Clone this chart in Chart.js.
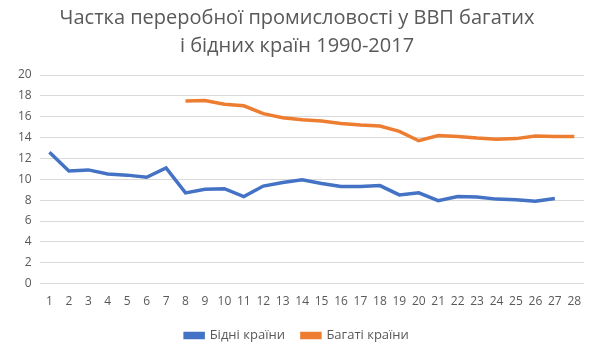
<!DOCTYPE html>
<html>
<head>
<meta charset="utf-8">
<script src="https://cdn.jsdelivr.net/npm/chart.js@4"></script>
<style>
  html, body { margin: 0; padding: 0; background: #fff; }
  #wrap { width: 600px; height: 360px; }
</style>
</head>
<body>
<div id="wrap"><canvas id="chart"></canvas></div>
<script>
const labels = ['1','2','3','4','5','6','7','8','9','10','11','12','13','14','15','16','17','18','19','20','21','22','23','24','25','26','27','28'];
const poor = [12.6, 10.8, 10.9, 10.5, 10.4, 10.2, 11.1, 8.7, 9.05, 9.1, 8.35, 9.35, 9.7, 9.95, 9.6, 9.3, 9.3, 9.4, 8.5, 8.7, 7.95, 8.35, 8.3, 8.1, 8.05, 7.9, 8.15, null];
const rich = [null, null, null, null, null, null, null, 17.5, 17.55, 17.2, 17.05, 16.3, 15.9, 15.7, 15.6, 15.35, 15.2, 15.1, 14.6, 13.7, 14.2, 14.1, 13.95, 13.85, 13.9, 14.15, 14.1, 14.1];
const titleLines = ['Частка переробної промисловості у ВВП багатих', 'і бідних країн 1990-2017'];

const font = '"Open Sans", "Noto Sans", sans-serif';

new Chart(document.getElementById('chart'), {
    type: 'line',
    data: {
        labels: labels,
        datasets: [
            {
                label: 'Бідні країни',
                data: poor,
                borderColor: '#4472C4',
                backgroundColor: '#4472C4',
                borderWidth: 3.5,
                pointRadius: 0,
                tension: 0
            },
            {
                label: 'Багаті країни',
                data: rich,
                borderColor: '#ED7D31',
                backgroundColor: '#ED7D31',
                borderWidth: 3.5,
                pointRadius: 0,
                tension: 0
            }
        ]
    },
    options: {
        responsive: true,
        maintainAspectRatio: false,
        animation: false,
        layout: { padding: { left: 10, right: 16, top: 4, bottom: 8 } },
        plugins: {
            title: {
                display: true,
                text: titleLines,
                color: '#595959',
                font: { family: font, size: 20, weight: 'normal', lineHeight: 1.4 },
                padding: { top: 0, bottom: 15 }
            },
            legend: {
                position: 'bottom',
                labels: {
                    color: '#595959',
                    font: { family: font, size: 13 },
                    boxWidth: 18,
                    boxHeight: 4,
                    padding: 17
                }
            },
            tooltip: { enabled: false }
        },
        scales: {
            x: {
                offset: true,
                grid: { display: false },
                border: { display: false },
                ticks: { color: '#595959', font: { family: font, size: 12 }, maxRotation: 0, autoSkip: false }
            },
            y: {
                min: 0,
                max: 20,
                ticks: { stepSize: 2, color: '#595959', font: { family: font, size: 12 }, padding: 8 },
                grid: { color: '#d9d9d9', drawTicks: false },
                border: { display: false }
            }
        }
    }
});
</script>
</body>
</html>
